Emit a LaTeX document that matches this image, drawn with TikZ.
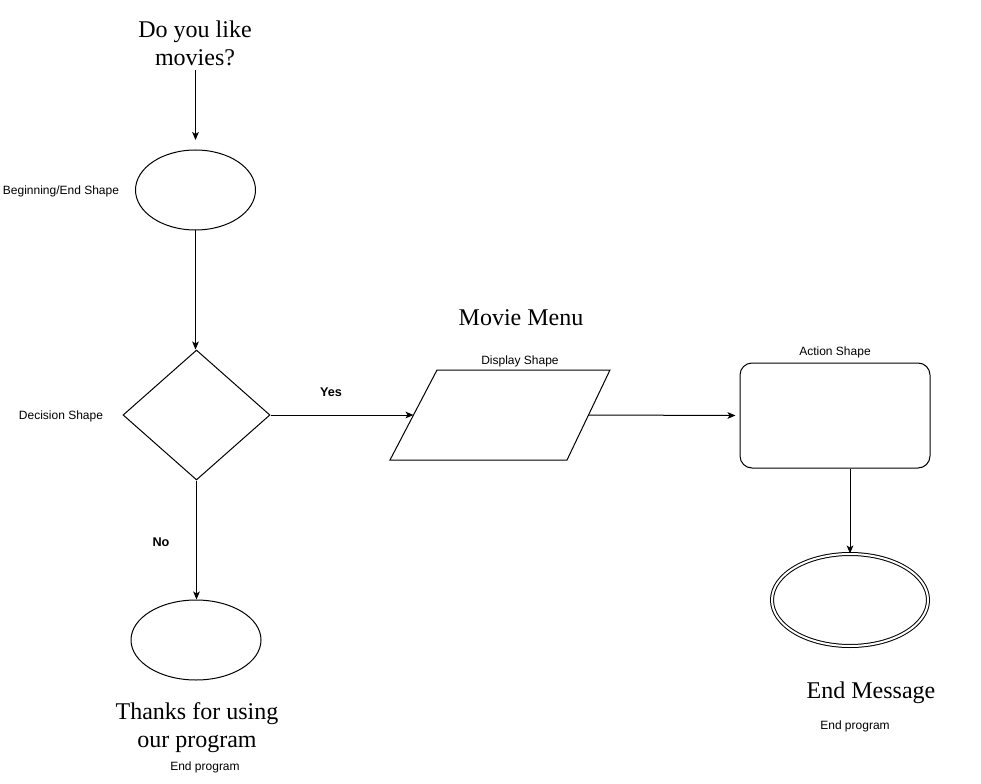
\documentclass[tikz,border=0pt]{standalone}
\usepackage{fontspec}
\setmainfont{Liberation Serif}
\newfontfamily\arialf{Liberation Sans}
\usetikzlibrary{shapes.geometric,arrows.meta,calc}
\tikzset{
  conn/.style={line width=0.75pt,-{Stealth[length=6pt,width=5pt,inset=1.5pt]}},
  shapeline/.style={draw,line width=0.75pt,inner sep=0pt},
  bigtxt/.style={font=\fontsize{18}{21}\selectfont,align=center,inner sep=0pt},
  smalltxt/.style={font=\arialf\fontsize{9}{11}\selectfont,inner sep=0pt},
  boldtxt/.style={font=\arialf\bfseries\fontsize{9.5}{11}\selectfont,inner sep=0pt}
}
\begin{document}
\begin{tikzpicture}[x=0.75pt,y=-0.75pt]
\useasboundingbox (0,0) rectangle (981,784);
% texts
\node[bigtxt] (q) at (195,43) {Do you like\\movies?};
\node[bigtxt] (mm) at (521,318) {Movie Menu};
\node[smalltxt] (ds) at (520,361.5) {Display Shape};
\node[smalltxt] (as) at (835,352.5) {Action Shape};
\node[smalltxt] (bes) at (61,191.5) {Beginning/End Shape};
\node[smalltxt] (dcs) at (61,416.5) {Decision Shape};
\node[boldtxt] (yes) at (331,392) {Yes};
\node[boldtxt] (no) at (161,542) {No};
\node[bigtxt] (thx) at (197,728) {Thanks for using\\our program};
\node[smalltxt] (ep1) at (205,767) {End program};
\node[bigtxt] (em) at (871,693) {End Message};
\node[smalltxt] (ep2) at (855,726.5) {End program};
% shapes
\node[shapeline,ellipse,minimum width=90pt,minimum height=60pt] (start) at (195.5,190) {};
\node[shapeline,diamond,minimum width=110.25pt,minimum height=97.5pt] (dec) at (196.5,415) {};
\draw[line width=0.75pt] (437,370) -- (610,370) -- (567,460) -- (390,460) -- cycle;
\coordinate (pl) at (413.5,415);
\coordinate (pr) at (588.5,415);
\node[shapeline,rectangle,rounded corners=9pt,minimum width=142.5pt,minimum height=78.75pt] (act) at (835,415.5) {};
\node[shapeline,ellipse,double,double distance=1.5pt,minimum width=117pt,minimum height=69pt] (endm) at (850,600) {};
\node[shapeline,ellipse,minimum width=97.5pt,minimum height=60pt] (thanks) at (196,640) {};
% connectors
\coordinate (qtip) at (195.5,140);
\draw[conn] (195.5,70) -- (qtip);
\draw[conn] (start.south) -- (start.south |- dec.north);
\draw[conn] (dec.east) -- (pl);
\draw[conn,shorten >=3pt] (pr) -- (act.west);
\draw[conn] (act.south -| endm.north) -- (endm.north);
\draw[conn] (dec.south) -- (dec.south |- thanks.north);
\end{tikzpicture}
\end{document}
